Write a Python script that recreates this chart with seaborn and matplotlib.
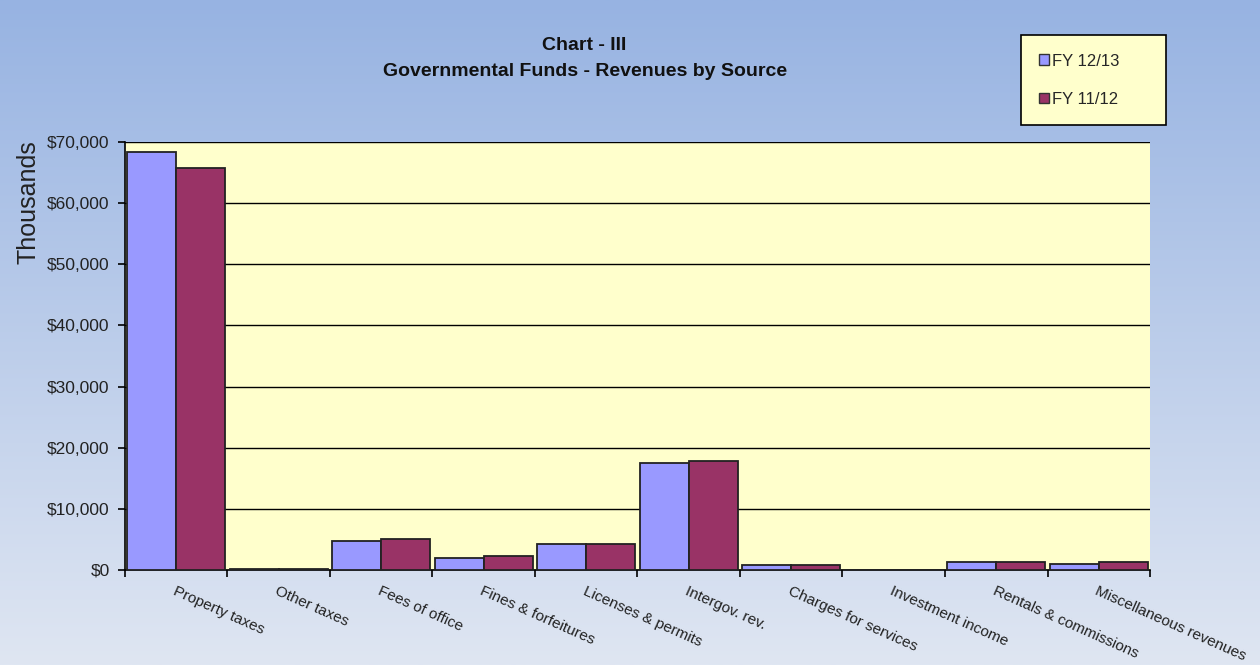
import numpy as np
import pandas as pd
import matplotlib
matplotlib.use("Agg")
import matplotlib.pyplot as plt
import seaborn as sns
from matplotlib.ticker import FuncFormatter, FixedLocator
from matplotlib.patches import Patch

categories = ["Property taxes", "Other taxes", "Fees of office", "Fines & forfeitures",
              "Licenses & permits", "Intergov. rev.", "Charges for services",
              "Investment income", "Rentals & commissions", "Miscellaneous revenues"]
fy1213 = [68400, 150, 4800, 2000, 4200, 17500, 800, 50, 1300, 1000]
fy1112 = [65800, 150, 5100, 2300, 4300, 17800, 800, 50, 1300, 1300]
series_names = ["FY 12/13", "FY 11/12"]
y_ticks = [0, 10000, 20000, 30000, 40000, 50000, 60000, 70000]

df = pd.DataFrame({
    "category": categories * 2,
    "value": fy1213 + fy1112,
    "series": [series_names[0]] * len(categories) + [series_names[1]] * len(categories),
})

sns.set_theme(style="white")
plt.rcParams['font.family'] = ['Liberation Sans', 'DejaVu Sans']

fig = plt.figure(figsize=(12.6, 6.65), dpi=100)

# background gradient
bg = fig.add_axes([0, 0, 1, 1], zorder=-10)
grad = np.linspace(0, 1, 256).reshape(-1, 1)
top = np.array([0x97, 0xb3, 0xe2]) / 255.0
bot = np.array([0xdf, 0xe6, 0xf2]) / 255.0
img = top[None, None, :] * (1 - grad[:, :, None]) + bot[None, None, :] * grad[:, :, None]
bg.imshow(img, aspect="auto", extent=[0, 1, 0, 1], origin="upper")
bg.set_axis_off()

ax = fig.add_axes([0.0992, 0.1429, 0.8135, 0.6436])
ax.set_facecolor("#ffffcc")
palette = {series_names[0]: "#9999ff", series_names[1]: "#993366"}
sns.barplot(data=df, x="category", y="value", hue="series", palette=palette,
            width=0.96, edgecolor="#222222", linewidth=1.3, saturation=1,
            ax=ax, legend=False, zorder=3)

ax.set_ylim(0, 70000)
ax.set_xlim(-0.5, len(categories) - 0.5)
ax.yaxis.set_major_locator(FixedLocator(y_ticks))
ax.yaxis.set_major_formatter(FuncFormatter(lambda v, p: "${:,.0f}".format(v)))
ax.grid(axis="y", color="black", linewidth=1.0, zorder=0)
ax.set_axisbelow(True)
for s in ["top", "right"]:
    ax.spines[s].set_visible(False)
for s in ["left", "bottom"]:
    ax.spines[s].set_color("black")
    ax.spines[s].set_linewidth(1.2)
ax.tick_params(axis="y", which="major", direction="out", length=5, width=1.2,
               color="black", labelsize=12.5, labelcolor="#222222", left=True, pad=6)

# x ticks: labels at centers, tick marks at boundaries
ax.set_xticks(range(len(categories)))
ax.set_xticklabels(categories, rotation=-24, ha="left", rotation_mode="anchor",
                   fontsize=11, color="#222222")
ax.tick_params(axis="x", which="major", length=0, pad=10)
ax.set_xticks(np.arange(-0.5, len(categories), 1.0), minor=True)
ax.tick_params(axis="x", which="minor", direction="out", length=5, width=1.2,
               color="black", bottom=True)
ax.set_xlabel("")
ax.set_ylabel("Thousands", fontsize=18, color="#222222")
ax.yaxis.set_label_coords(-0.082, 0.86)

fig.text(0.464, 0.932, "Chart - III", ha="center", va="center",
         fontsize=14, fontweight="bold", color="#111111")
fig.text(0.464, 0.892, "Governmental Funds - Revenues by Source", ha="center",
         va="center", fontsize=14, fontweight="bold", color="#111111")

handles = [Patch(facecolor=palette[n], edgecolor="#333333", label=n) for n in series_names]
leg = fig.legend(handles=handles, loc="upper left", bbox_to_anchor=(0.81, 0.812, 0.115, 0.135),
                 mode="expand", frameon=True, fancybox=False, edgecolor="black",
                 facecolor="#ffffcc", fontsize=12, handlelength=0.6, handleheight=0.6,
                 handletextpad=0.2, labelspacing=1.4, borderpad=1.1, borderaxespad=0)
leg.get_frame().set_linewidth(1.2)
leg.get_frame().set_alpha(1)

fig.savefig("out.png", dpi=100)
